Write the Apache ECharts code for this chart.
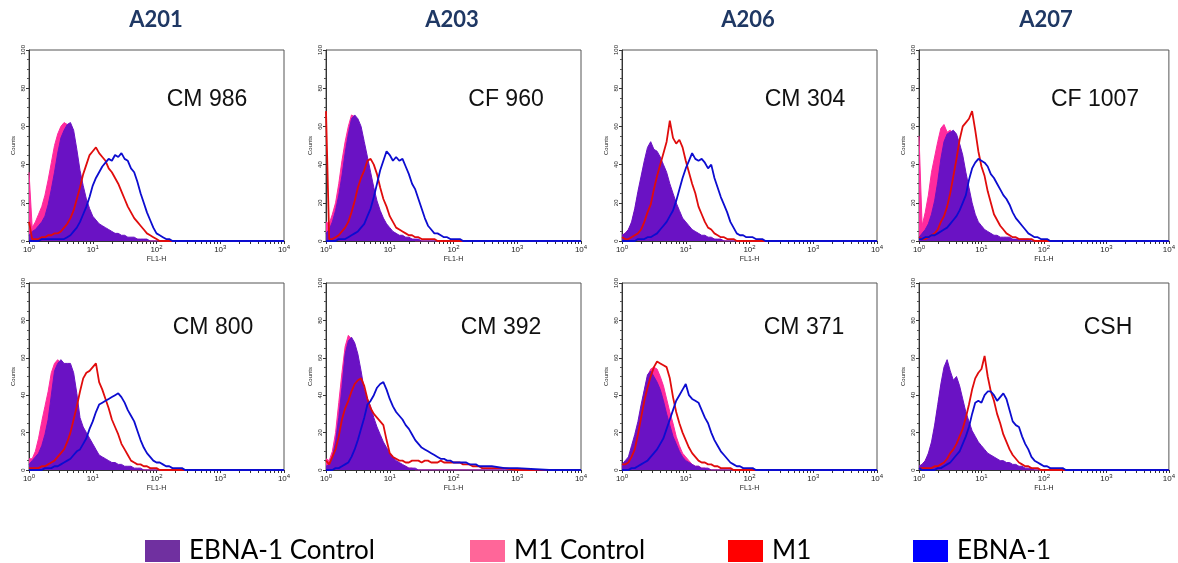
<!DOCTYPE html>
<html>
<head>
<meta charset="utf-8">
<title>EBNA-1 / M1 flow cytometry</title>
<script src="https://cdn.jsdelivr.net/npm/echarts@6/dist/echarts.min.js"></script>
<style>
  html, body { margin: 0; padding: 0; background: #fff; }
  #chart { width: 1178px; height: 563px; }
</style>
</head>
<body>
<div id="chart"></div>
<script>
// column headings and panel labels
const columnTitles = ['A201', 'A203', 'A206', 'A207'];
const sampleNames = ['CM 986', 'CF 960', 'CM 304', 'CF 1007', 'CM 800', 'CM 392', 'CM 371', 'CSH'];
const seriesNames = ['EBNA-1 Control', 'M1 Control', 'M1', 'EBNA-1'];
const decadeLabels = [0, 1, 2, 3, 4];          // FL1-H tick labels, 10^n
const countTicks = [0, 20, 40, 60, 80, 100];

// histogram bins, position on the FL1-H axis in decades (log10)
const fl1Bins = [0, 0.05, 0.1, 0.15, 0.2, 0.25, 0.3, 0.35, 0.4, 0.45,
  0.5, 0.55, 0.6, 0.65, 0.7, 0.75, 0.8, 0.85, 0.9, 0.95,
  1, 1.05, 1.1, 1.15, 1.2, 1.25, 1.3, 1.35, 1.4, 1.45,
  1.5, 1.55, 1.6, 1.65, 1.7, 1.75, 1.8, 1.85, 1.9, 1.95,
  2, 2.05, 2.1, 2.15, 2.2, 2.25, 2.3, 2.35, 2.4, 2.45, 2.5,
  2.6, 2.8, 3, 3.5, 4];

// A201 / CM 986
const cm986EbnaCtrl = [3, 5, 6, 8, 10, 13, 19, 27, 36, 46,
  54, 58, 61, 62, 58, 48, 37, 29, 22, 17,
  13, 11, 9, 8, 7, 6, 5, 4, 4, 3,
  3, 2, 2, 2, 1, 1, 1, 1, 0, 0,
  0, 0, 0, 0, 0, 0, 0, 0, 0, 0, 0,
  0, 0, 0, 0, 0];
const cm986M1Ctrl = [36, 7, 10, 14, 18, 24, 32, 41, 50, 56,
  60, 62, 61, 57, 50, 41, 31, 24, 18, 13,
  10, 8, 6, 5, 4, 4, 3, 3, 2, 2,
  2, 1, 1, 1, 1, 0, 0, 0, 0, 0,
  0, 0, 0, 0, 0, 0, 0, 0, 0, 0, 0,
  0, 0, 0, 0, 0];
const cm986M1 = [10, 1, 1, 1, 2, 2, 3, 3, 4, 4,
  5, 7, 9, 12, 16, 22, 28, 35, 40, 45,
  47, 49, 46, 44, 42, 38, 36, 33, 30, 26,
  22, 18, 15, 12, 10, 8, 6, 4, 3, 2,
  1, 0, 0, 0, 0, 0, 0, 0, 0, 0, 0,
  0, 0, 0, 0, 0];
const cm986Ebna = [0, 0, 0, 0, 1, 1, 1, 1, 1, 1,
  1, 1, 2, 3, 5, 7, 10, 14, 18, 23,
  29, 33, 36, 39, 41, 43, 42, 45, 44, 46,
  43, 42, 38, 36, 31, 25, 20, 15, 11, 7,
  4, 3, 2, 1, 1, 0, 0, 0, 0, 0, 0,
  0, 0, 0, 0, 0];

// A203 / CF 960
const cf960EbnaCtrl = [4, 6, 10, 16, 24, 34, 46, 56, 64, 66,
  64, 60, 52, 44, 36, 28, 21, 16, 12, 9,
  7, 5, 4, 3, 3, 2, 2, 1, 1, 1,
  0, 0, 0, 0, 0, 0, 0, 0, 0, 0,
  0, 0, 0, 0, 0, 0, 0, 0, 0, 0, 0,
  0, 0, 0, 0, 0];
const cf960M1Ctrl = [10, 9, 14, 20, 30, 42, 52, 60, 66, 65,
  62, 55, 47, 39, 32, 25, 19, 14, 10, 7,
  5, 4, 3, 2, 2, 1, 1, 1, 0, 0,
  0, 0, 0, 0, 0, 0, 0, 0, 0, 0,
  0, 0, 0, 0, 0, 0, 0, 0, 0, 0, 0,
  0, 0, 0, 0, 0];
const cf960M1 = [68, 1, 1, 2, 3, 5, 7, 10, 15, 21,
  28, 33, 37, 42, 43, 40, 35, 28, 22, 18,
  13, 10, 7, 6, 5, 4, 3, 3, 2, 2,
  1, 1, 1, 1, 1, 0, 0, 0, 0, 0,
  0, 0, 0, 0, 0, 0, 0, 0, 0, 0, 0,
  0, 0, 0, 0, 0];
const cf960Ebna = [0, 0, 0, 0, 1, 1, 1, 2, 3, 4,
  5, 7, 9, 13, 17, 23, 30, 37, 42, 47,
  45, 42, 44, 42, 43, 39, 35, 30, 27, 22,
  17, 12, 8, 6, 4, 4, 3, 2, 2, 1,
  1, 1, 1, 0, 0, 0, 0, 0, 0, 0, 0,
  0, 0, 0, 0, 0];

// A206 / CM 304
const cm304EbnaCtrl = [3, 4, 6, 10, 17, 26, 34, 42, 49, 52,
  48, 47, 44, 40, 36, 30, 25, 20, 16, 12,
  10, 8, 6, 5, 4, 3, 3, 2, 2, 1,
  1, 1, 0, 0, 0, 0, 0, 0, 0, 0,
  0, 0, 0, 0, 0, 0, 0, 0, 0, 0, 0,
  0, 0, 0, 0, 0];
const cm304M1Ctrl = [3, 4, 6, 9, 16, 24, 32, 40, 46, 48,
  46, 44, 42, 38, 34, 28, 23, 18, 14, 10,
  8, 6, 5, 4, 3, 2, 2, 1, 1, 1,
  0, 0, 0, 0, 0, 0, 0, 0, 0, 0,
  0, 0, 0, 0, 0, 0, 0, 0, 0, 0, 0,
  0, 0, 0, 0, 0];
const cm304M1 = [2, 1, 1, 2, 3, 4, 6, 10, 15, 19,
  27, 34, 40, 46, 52, 63, 54, 51, 53, 49,
  42, 36, 30, 25, 18, 14, 10, 7, 6, 4,
  3, 2, 2, 1, 1, 1, 0, 0, 0, 0,
  0, 0, 0, 0, 0, 0, 0, 0, 0, 0, 0,
  0, 0, 0, 0, 0];
const cm304Ebna = [0, 0, 0, 0, 0, 1, 1, 1, 2, 2,
  3, 4, 6, 8, 10, 13, 16, 21, 27, 33,
  38, 42, 46, 43, 42, 43, 41, 38, 40, 33,
  28, 23, 19, 15, 10, 7, 4, 3, 3, 2,
  2, 2, 1, 1, 1, 0, 0, 0, 0, 0, 0,
  0, 0, 0, 0, 0];

// A207 / CF 1007
const cf1007EbnaCtrl = [2, 4, 6, 9, 14, 21, 31, 43, 52, 56,
  57, 58, 56, 51, 45, 36, 28, 20, 14, 10,
  8, 6, 5, 4, 3, 3, 2, 2, 2, 2,
  1, 1, 1, 1, 1, 1, 0, 0, 0, 0,
  0, 0, 0, 0, 0, 0, 0, 0, 0, 0, 0,
  0, 0, 0, 0, 0];
const cf1007M1Ctrl = [55, 8, 15, 24, 36, 44, 52, 59, 61, 57,
  58, 55, 50, 46, 40, 31, 24, 17, 12, 8,
  6, 5, 4, 3, 2, 2, 1, 1, 1, 0,
  0, 0, 0, 0, 0, 0, 0, 0, 0, 0,
  0, 0, 0, 0, 0, 0, 0, 0, 0, 0, 0,
  0, 0, 0, 0, 0];
const cf1007M1 = [2, 1, 1, 2, 3, 4, 6, 10, 13, 18,
  25, 34, 43, 53, 60, 62, 64, 68, 58, 47,
  39, 34, 26, 20, 14, 11, 8, 6, 4, 3,
  2, 2, 1, 1, 1, 1, 1, 0, 0, 0,
  0, 0, 0, 0, 0, 0, 0, 0, 0, 0, 0,
  0, 0, 0, 0, 0];
const cf1007Ebna = [1, 1, 2, 2, 3, 3, 4, 5, 6, 7,
  9, 11, 13, 16, 20, 24, 32, 38, 41, 43,
  42, 41, 39, 35, 33, 30, 27, 24, 22, 19,
  15, 12, 10, 8, 6, 4, 3, 2, 2, 1,
  1, 1, 0, 0, 0, 0, 0, 0, 0, 0, 0,
  0, 0, 0, 0, 0];

// A201 / CM 800
const cm800EbnaCtrl = [3, 5, 7, 9, 13, 19, 27, 40, 53, 57,
  59, 57, 57, 57, 52, 41, 28, 23, 20, 17,
  14, 11, 8, 7, 6, 5, 4, 4, 3, 3,
  2, 2, 2, 1, 1, 1, 0, 0, 0, 0,
  0, 0, 0, 0, 0, 0, 0, 0, 0, 0, 0,
  0, 0, 0, 0, 0];
const cm800M1Ctrl = [6, 6, 10, 17, 26, 34, 42, 52, 57, 59,
  57, 55, 54, 52, 47, 37, 25, 20, 17, 14,
  12, 9, 6, 5, 4, 3, 3, 2, 2, 1,
  1, 1, 0, 0, 0, 0, 0, 0, 0, 0,
  0, 0, 0, 0, 0, 0, 0, 0, 0, 0, 0,
  0, 0, 0, 0, 0];
const cm800M1 = [1, 1, 1, 1, 2, 2, 3, 4, 5, 7,
  9, 11, 15, 20, 27, 34, 42, 49, 52, 53,
  55, 57, 47, 43, 38, 33, 27, 23, 19, 14,
  11, 8, 5, 4, 3, 3, 2, 2, 1, 1,
  1, 0, 0, 0, 0, 0, 0, 0, 0, 0, 0,
  0, 0, 0, 0, 0];
const cm800Ebna = [0, 0, 0, 0, 0, 1, 1, 1, 2, 2,
  3, 4, 5, 6, 8, 10, 11, 14, 17, 22,
  26, 31, 35, 36, 37, 38, 39, 40, 41, 39,
  36, 32, 29, 26, 21, 16, 12, 9, 7, 5,
  4, 4, 3, 2, 2, 1, 1, 1, 1, 0, 0,
  0, 0, 0, 0, 0];

// A203 / CM 392
const cm392EbnaCtrl = [2, 3, 7, 15, 28, 44, 62, 69, 71, 68,
  62, 53, 43, 38, 34, 28, 23, 19, 15, 12,
  9, 7, 5, 4, 3, 2, 1, 1, 1, 0,
  0, 0, 0, 0, 0, 0, 0, 0, 0, 0,
  0, 0, 0, 0, 0, 0, 0, 0, 0, 0, 0,
  0, 0, 0, 0, 0];
const cm392M1Ctrl = [6, 5, 10, 20, 36, 52, 66, 72, 70, 64,
  56, 48, 40, 34, 30, 25, 20, 16, 12, 10,
  7, 5, 4, 3, 2, 2, 1, 1, 0, 0,
  0, 0, 0, 0, 0, 0, 0, 0, 0, 0,
  0, 0, 0, 0, 0, 0, 0, 0, 0, 0, 0,
  0, 0, 0, 0, 0];
const cm392M1 = [5, 3, 7, 11, 18, 27, 33, 37, 42, 46,
  48, 49, 45, 38, 33, 30, 28, 26, 24, 16,
  9, 7, 6, 5, 5, 4, 4, 5, 5, 5,
  4, 5, 5, 4, 4, 4, 5, 4, 4, 4,
  4, 4, 4, 3, 3, 3, 2, 2, 2, 1, 1,
  1, 1, 0, 0, 0];
const cm392Ebna = [0, 0, 0, 1, 1, 2, 3, 4, 7, 11,
  16, 22, 28, 35, 37, 40, 44, 46, 47, 43,
  38, 34, 31, 29, 27, 24, 22, 19, 16, 14,
  12, 11, 10, 9, 8, 7, 6, 6, 5, 5,
  4, 4, 4, 4, 4, 3, 3, 3, 2, 2, 2,
  2, 1, 1, 0, 0];

// A206 / CM 371
const cm371EbnaCtrl = [3, 5, 7, 13, 19, 26, 35, 43, 51, 53,
  50, 47, 43, 37, 30, 24, 18, 14, 10, 7,
  5, 4, 3, 2, 2, 1, 1, 1, 0, 0,
  0, 0, 0, 0, 0, 0, 0, 0, 0, 0,
  0, 0, 0, 0, 0, 0, 0, 0, 0, 0, 0,
  0, 0, 0, 0, 0];
const cm371M1Ctrl = [2, 4, 6, 11, 17, 24, 33, 42, 50, 54,
  55, 54, 50, 45, 38, 31, 25, 18, 13, 9,
  7, 5, 3, 2, 2, 1, 1, 0, 0, 0,
  0, 0, 0, 0, 0, 0, 0, 0, 0, 0,
  0, 0, 0, 0, 0, 0, 0, 0, 0, 0, 0,
  0, 0, 0, 0, 0];
const cm371M1 = [3, 3, 4, 7, 11, 19, 28, 37, 44, 50,
  55, 58, 57, 56, 55, 49, 39, 31, 25, 20,
  16, 12, 9, 7, 5, 4, 4, 3, 3, 2,
  2, 1, 1, 1, 1, 0, 0, 0, 0, 0,
  0, 0, 0, 0, 0, 0, 0, 0, 0, 0, 0,
  0, 0, 0, 0, 0];
const cm371Ebna = [0, 0, 0, 1, 1, 2, 3, 4, 5, 7,
  9, 11, 14, 17, 22, 27, 32, 37, 40, 43,
  46, 40, 38, 37, 36, 32, 28, 25, 20, 16,
  13, 10, 8, 6, 4, 3, 2, 2, 1, 1,
  1, 1, 0, 0, 0, 0, 0, 0, 0, 0, 0,
  0, 0, 0, 0, 0];

// A207 / CSH
const cshEbnaCtrl = [2, 3, 5, 9, 15, 24, 35, 46, 55, 59,
  53, 48, 50, 45, 38, 31, 26, 21, 18, 15,
  13, 11, 9, 8, 7, 6, 5, 5, 4, 4,
  3, 3, 2, 2, 1, 1, 1, 0, 0, 0,
  0, 0, 0, 0, 0, 0, 0, 0, 0, 0, 0,
  0, 0, 0, 0, 0];
const cshM1Ctrl = [2, 3, 5, 8, 13, 22, 33, 44, 52, 56,
  50, 46, 47, 42, 35, 28, 23, 18, 15, 12,
  10, 8, 7, 6, 5, 4, 3, 3, 2, 2,
  1, 1, 1, 0, 0, 0, 0, 0, 0, 0,
  0, 0, 0, 0, 0, 0, 0, 0, 0, 0, 0,
  0, 0, 0, 0, 0];
const cshM1 = [1, 1, 1, 1, 1, 2, 2, 3, 4, 6,
  9, 11, 14, 18, 22, 28, 35, 43, 49, 52,
  54, 61, 50, 42, 37, 30, 25, 19, 15, 11,
  8, 6, 4, 3, 2, 2, 1, 1, 1, 0,
  0, 0, 0, 0, 0, 0, 0, 0, 0, 0, 0,
  0, 0, 0, 0, 0];
const cshEbna = [1, 0, 0, 0, 0, 0, 1, 1, 2, 3,
  4, 6, 8, 10, 14, 18, 23, 30, 36, 37,
  36, 40, 42, 42, 40, 37, 39, 41, 38, 32,
  26, 24, 23, 18, 14, 11, 7, 5, 4, 3,
  2, 2, 1, 1, 1, 1, 1, 0, 0, 0, 0,
  0, 0, 0, 0, 0];

const panelData = [
  [cm986EbnaCtrl, cm986M1Ctrl, cm986M1, cm986Ebna],
  [cf960EbnaCtrl, cf960M1Ctrl, cf960M1, cf960Ebna],
  [cm304EbnaCtrl, cm304M1Ctrl, cm304M1, cm304Ebna],
  [cf1007EbnaCtrl, cf1007M1Ctrl, cf1007M1, cf1007Ebna],
  [cm800EbnaCtrl, cm800M1Ctrl, cm800M1, cm800Ebna],
  [cm392EbnaCtrl, cm392M1Ctrl, cm392M1, cm392Ebna],
  [cm371EbnaCtrl, cm371M1Ctrl, cm371M1, cm371Ebna],
  [cshEbnaCtrl, cshM1Ctrl, cshM1, cshEbna]
];

// layout
const gridLefts = [29, 326, 622, 919];
const gridTops = [50, 283];
const gridHeights = [191, 187];
const gridWidth = 255;
const titleCenters = [156, 452, 748, 1046];
const labelOffsets = [178, 180, 183, 176, 184, 175, 182, 189];
const labelRows = [100, 328];

const plotColors = ['#6a12c4', '#ff2a9d', '#e00c0c', '#0c0cd0'];
const legendColors = ['#7030a0', '#ff6699', '#ff0000', '#0000ff'];
const legendLefts = [145, 470, 728, 913];

// log-style minor ticks along FL1-H
const fl1Ticks = [];
decadeLabels.forEach(d => {
  fl1Ticks.push(d);
  if (d < 4) for (let m = 2; m <= 9; m++) fl1Ticks.push(d + Math.log10(m));
});

const chart = echarts.init(document.getElementById('chart'));

const grids = [], xAxes = [], yAxes = [], series = [], graphics = [];

panelData.forEach((sets, p) => {
  const col = p % 4, row = Math.floor(p / 4);
  grids.push({
    left: gridLefts[col], top: gridTops[row], width: gridWidth, height: gridHeights[row],
    show: true, borderColor: '#555', borderWidth: 1, backgroundColor: '#fff'
  });
  xAxes.push({
    gridIndex: p, type: 'value', min: 0, max: 4, interval: 1,
    name: 'FL1-H', nameLocation: 'middle', nameGap: 15,
    nameTextStyle: { fontSize: 7, color: '#222', fontFamily: 'Liberation Sans' },
    axisLine: { lineStyle: { color: '#333' } },
    axisTick: { customValues: fl1Ticks, length: 3, lineStyle: { color: '#333' } },
    axisLabel: {
      customValues: decadeLabels, margin: 3,
      formatter: v => '{b|10}{s|' + v + '}',
      rich: {
        b: { fontSize: 8, color: '#222', fontFamily: 'Liberation Sans' },
        s: { fontSize: 6, color: '#222', fontFamily: 'Liberation Sans', padding: [0, 0, 5, 0] }
      }
    },
    splitLine: { show: false }
  });
  yAxes.push({
    gridIndex: p, type: 'value', min: 0, max: 100, interval: 20,
    name: 'Counts', nameLocation: 'middle', nameGap: 13, nameRotate: 90,
    nameTextStyle: { fontSize: 6, color: '#222', fontFamily: 'Liberation Sans' },
    axisLine: { show: true, lineStyle: { color: '#333' } },
    axisTick: { show: true, length: 3, lineStyle: { color: '#333' } },
    minorTick: { show: true, splitNumber: 4, length: 2, lineStyle: { color: '#555' } },
    axisLabel: {
      rotate: 90, fontSize: 6, margin: 3, color: '#222', fontFamily: 'Liberation Sans',
      customValues: countTicks
    },
    splitLine: { show: false }
  });

  // pink control sits under the purple control, the two lines on top
  [1, 0, 2, 3].forEach((s, order) => {
    const filled = s < 2;
    series.push({
      name: seriesNames[s],
      type: 'line',
      xAxisIndex: p, yAxisIndex: p,
      data: fl1Bins.map((x, i) => [x, sets[s][i]]),
      showSymbol: false,
      silent: true,
      z: 2 + order,
      color: plotColors[s],
      lineStyle: { width: filled ? 1 : 1.8, color: plotColors[s] },
      areaStyle: filled ? { color: plotColors[s], opacity: 1 } : undefined
    });
  });

  graphics.push({
    type: 'text',
    x: gridLefts[col] + labelOffsets[p], y: labelRows[row],
    style: {
      text: sampleNames[p], fill: '#111', fontSize: 23,
      fontFamily: 'Liberation Sans', align: 'center', verticalAlign: 'middle'
    }
  });
});

columnTitles.forEach((t, c) => {
  graphics.push({
    type: 'text', x: titleCenters[c], y: 20,
    style: {
      text: t, fill: '#1f3864', fontSize: 22, fontWeight: 'bold',
      fontFamily: 'Lato', align: 'center', verticalAlign: 'middle'
    }
  });
});

const legends = seriesNames.map((n, i) => ({
  left: legendLefts[i], top: 538, padding: 0,
  icon: 'rect', itemWidth: 35, itemHeight: 22,
  selectedMode: false,
  data: [{ name: n, itemStyle: { color: legendColors[i] } }],
  textStyle: { fontSize: 26, color: '#000', fontFamily: 'Lato', padding: [0, 0, 0, 4] }
}));

chart.setOption({
  animation: false,
  backgroundColor: '#fff',
  grid: grids,
  xAxis: xAxes,
  yAxis: yAxes,
  legend: legends,
  series: series,
  graphic: graphics
});
</script>
</body>
</html>
